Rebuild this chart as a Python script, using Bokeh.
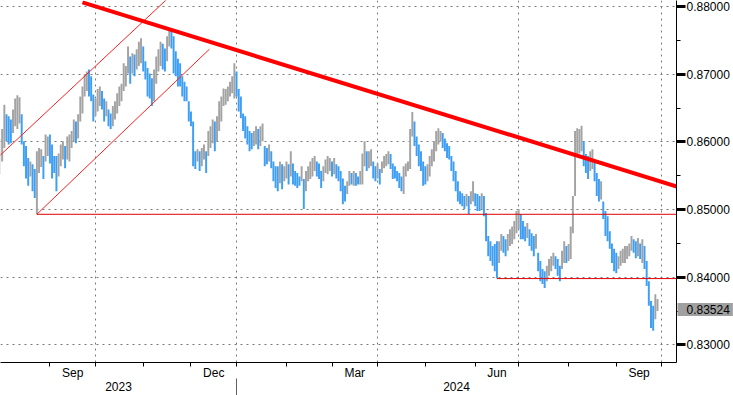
import numpy as np
from bokeh.plotting import figure
from bokeh.models import (Range1d, LinearAxis, FixedTicker, ColumnDataSource,
                          Label, PrintfTickFormatter)
from bokeh.embed import file_html
from bokeh.resources import INLINE

# ---------------- data (trading-day index, Aug 2023 .. Sep 2024) ----------------
month_start = [0, 23, 44, 66, 88, 109, 132, 153, 174, 196, 219, 239, 262, 284, 305]
labelled_months = [("Sep", 23, 44), ("Dec", 88, 109), ("Mar", 153, 174),
                   ("Jun", 219, 239), ("Sep", 284, 305)]
quarter_starts = [44, 109, 174, 239, 305]
year_start_2024 = 109
years = ["2023", "2024"]

high_pips = [
    8605, 8619, 8655, 8641, 8638, 8633, 8648, 8664, 8669, 8666,
    8641, 8601, 8594, 8576, 8571, 8567, 8560, 8586, 8591, 8589,
    8579, 8611, 8608, 8611, 8596, 8579, 8579, 8583, 8596, 8601,
    8594, 8608, 8611, 8616, 8633, 8630, 8641, 8667, 8682, 8700,
    8704, 8707, 8697, 8670, 8664, 8678, 8682, 8675, 8664, 8660,
    8648, 8642, 8653, 8660, 8672, 8682, 8686, 8716, 8712, 8741,
    8726, 8731, 8729, 8737, 8748, 8753, 8741, 8719, 8709, 8701,
    8694, 8707, 8726, 8737, 8748, 8745, 8738, 8756, 8766, 8765,
    8756, 8734, 8723, 8716, 8697, 8689, 8682, 8660, 8645, 8630,
    8586, 8589, 8586, 8591, 8596, 8586, 8616, 8623, 8633, 8630,
    8638, 8660, 8667, 8679, 8678, 8682, 8689, 8697, 8716, 8704,
    8678, 8667, 8642, 8638, 8623, 8616, 8613, 8616, 8623, 8619,
    8623, 8627, 8594, 8591, 8596, 8586, 8571, 8564, 8564, 8571,
    8567, 8564, 8571, 8567, 8586, 8568, 8557, 8554, 8549, 8564,
    8545, 8557, 8564, 8571, 8576, 8579, 8571, 8568, 8557, 8564,
    8574, 8579, 8576, 8571, 8576, 8567, 8564, 8557, 8546, 8535,
    8542, 8557, 8554, 8557, 8554, 8549, 8557, 8583, 8601, 8586,
    8586, 8589, 8571, 8564, 8568, 8560, 8571, 8579, 8582, 8586,
    8582, 8568, 8564, 8557, 8554, 8549, 8564, 8568, 8571, 8619,
    8644, 8630, 8608, 8596, 8586, 8571, 8564, 8567, 8579, 8589,
    8601, 8616, 8620, 8616, 8613, 8605, 8598, 8594, 8579, 8571,
    8557, 8542, 8527, 8524, 8520, 8523, 8520, 8527, 8542, 8524,
    8523, 8520, 8524, 8520, 8495, 8461, 8453, 8446, 8449, 8453,
    8453, 8464, 8461, 8456, 8464, 8471, 8475, 8483, 8498, 8501,
    8493, 8483, 8475, 8480, 8471, 8465, 8461, 8464, 8436, 8424,
    8412, 8409, 8417, 8427, 8431, 8436, 8431, 8427, 8417, 8439,
    8453, 8446, 8449, 8475, 8520, 8616, 8620, 8619, 8624, 8601,
    8582, 8579, 8586, 8589, 8571, 8554, 8545, 8542, 8512, 8498,
    8490, 8468, 8450, 8442, 8436, 8431, 8439, 8442, 8446, 8446,
    8450, 8461, 8456, 8453, 8458, 8450, 8456, 8446, 8424, 8394,
    8365, 8358, 8375, 8368,
]
low_pips = [
    8552, 8571, 8591, 8601, 8596, 8598, 8613, 8623, 8619, 8627,
    8596, 8564, 8546, 8535, 8549, 8527, 8517, 8493, 8554, 8563,
    8545, 8571, 8579, 8568, 8546, 8554, 8527, 8549, 8564, 8574,
    8561, 8574, 8571, 8591, 8601, 8598, 8605, 8630, 8642, 8667,
    8675, 8667, 8660, 8630, 8638, 8645, 8653, 8648, 8630, 8638,
    8623, 8619, 8623, 8633, 8642, 8653, 8660, 8675, 8682, 8701,
    8686, 8701, 8697, 8707, 8712, 8716, 8704, 8692, 8667, 8664,
    8653, 8660, 8686, 8704, 8712, 8707, 8704, 8719, 8741, 8738,
    8701, 8697, 8682, 8682, 8667, 8660, 8660, 8630, 8623, 8564,
    8560, 8571, 8557, 8564, 8574, 8554, 8579, 8591, 8598, 8586,
    8601, 8616, 8630, 8653, 8655, 8660, 8667, 8672, 8664, 8667,
    8645, 8635, 8616, 8605, 8596, 8586, 8589, 8594, 8596, 8589,
    8594, 8601, 8564, 8567, 8571, 8561, 8542, 8532, 8527, 8539,
    8530, 8542, 8546, 8537, 8549, 8537, 8535, 8532, 8535, 8542,
    8501, 8527, 8542, 8545, 8549, 8557, 8549, 8545, 8532, 8542,
    8554, 8552, 8557, 8549, 8552, 8546, 8542, 8527, 8508, 8512,
    8523, 8535, 8537, 8535, 8535, 8537, 8537, 8537, 8564, 8557,
    8561, 8564, 8546, 8542, 8546, 8537, 8554, 8561, 8564, 8567,
    8560, 8545, 8546, 8542, 8532, 8527, 8523, 8549, 8557, 8560,
    8608, 8594, 8579, 8564, 8557, 8535, 8537, 8542, 8549, 8564,
    8571, 8586, 8596, 8601, 8591, 8586, 8576, 8574, 8557, 8542,
    8527, 8512, 8508, 8505, 8501, 8505, 8493, 8508, 8512, 8505,
    8498, 8498, 8501, 8490, 8453, 8431, 8424, 8417, 8409, 8399,
    8421, 8439, 8436, 8431, 8439, 8446, 8449, 8456, 8465, 8471,
    8456, 8456, 8453, 8458, 8446, 8439, 8431, 8442, 8409, 8394,
    8390, 8384, 8394, 8402, 8409, 8417, 8412, 8402, 8394, 8412,
    8421, 8421, 8424, 8427, 8465, 8520, 8579, 8583, 8586, 8564,
    8554, 8545, 8557, 8560, 8542, 8520, 8512, 8515, 8486, 8461,
    8453, 8442, 8421, 8409, 8406, 8412, 8417, 8421, 8421, 8427,
    8431, 8439, 8436, 8428, 8431, 8427, 8421, 8412, 8387, 8358,
    8325, 8321, 8338, 8350,
]
last_price = 0.83524

price_ticks = [0.83, 0.84, 0.85, 0.86, 0.87, 0.88]
price_minor = [0.835, 0.845, 0.855, 0.865, 0.875]

# drawn studies (anchor points)
trend_x, trend_y = [38, 313], [0.8806, 0.8533]
chan_up_x, chan_up_y = [0, 80], [0.8580, 0.8820]
chan_lo_x, chan_lo_y = [17, 96.5], [0.8493, 0.8737]
support1_x0, support1 = 17, 0.8493
support2_x0, support2 = 229, 0.8398

# ---------------- styling / layout ----------------
FONT = "Liberation Sans"
FS = "12px"
BLUE = "#3d9ef5"
GREY = "#a3a3a3"
RED = "#ff0000"
X_START, X_END = 0.23, 311.75
Y_LO, Y_HI = 0.82740, 0.88089
W, H = 733, 395
FRAME_W, FRAME_H = 676, 362

p = figure(width=W, height=H, x_range=Range1d(X_START, X_END),
           y_range=Range1d(Y_LO, Y_HI), output_backend="svg",
           toolbar_location=None, y_axis_location="right",
           min_border_left=0, min_border_top=0,
           min_border_right=W - FRAME_W, min_border_bottom=H - FRAME_H)
p.outline_line_color = None

# grids
p.xgrid.ticker = FixedTicker(ticks=quarter_starts)
p.ygrid.ticker = FixedTicker(ticks=price_ticks)
for g in (p.xgrid, p.ygrid):
    g.grid_line_color = "#7a7a7a"
    g.grid_line_dash = "2 4"
    g.grid_line_width = 1

# right price axis
ya = p.yaxis[0]
ya.ticker = FixedTicker(ticks=price_ticks, minor_ticks=price_minor)
ya.formatter = PrintfTickFormatter(format="%.5f")
ya.axis_line_color = "black"
ya.major_tick_out = 9
ya.major_tick_in = 0
ya.major_tick_line_width = 3
ya.major_tick_line_color = "black"
ya.minor_tick_out = 4
ya.minor_tick_in = 0
ya.minor_tick_line_color = "black"
ya.major_label_standoff = 1
ya.major_label_text_font = FONT
ya.major_label_text_font_size = FS
ya.major_label_text_color = "black"

# bottom month axis
mids = [(a + b) / 2 for _, a, b in labelled_months]
xa = p.xaxis[0]
xa.ticker = FixedTicker(ticks=mids, minor_ticks=month_start)
xa.major_label_overrides = {m: name for m, (name, _, _) in zip(mids, labelled_months)}
xa.axis_line_color = "black"
xa.major_tick_out = 0
xa.major_tick_in = 0
xa.minor_tick_out = 4
xa.minor_tick_in = 0
xa.minor_tick_line_color = "black"
xa.major_label_standoff = -1
xa.major_label_text_font = FONT
xa.major_label_text_font_size = FS
xa.major_label_text_color = "black"

# bars
hi = np.array(high_pips) / 10000.0
lo = np.array(low_pips) / 10000.0
mid = (hi + lo) / 2
colors = [GREY] + [GREY if mid[k] >= mid[k - 1] else BLUE for k in range(1, len(mid))]
src = ColumnDataSource(dict(x=np.arange(len(hi)), top=hi, bottom=lo, color=colors))
p.vbar(x="x", top="top", bottom="bottom", width=0.9, source=src,
       fill_color="color", line_color=None)

# studies
p.line(chan_up_x, chan_up_y, line_color="#ff2020", line_width=1)
p.line(chan_lo_x, chan_lo_y, line_color="#ff2020", line_width=1)
p.line([support1_x0, X_END + 5], [support1, support1], line_color="#e00000", line_width=1)
p.line([support2_x0, X_END + 5], [support2, support2], line_color="#e00000", line_width=1)
p.line(trend_x, trend_y, line_color=RED, line_width=4)

# last-price tag (a label placed in a side panel so it is not clipped by the frame)
ux = (X_END - X_START) / FRAME_W          # data units per px in x
tag = Label(x=X_END + 10 * ux, y=last_price, text=f"{last_price:.5f}",
            text_baseline="middle", text_align="left",
            text_font=FONT, text_font_size=FS, text_color="black",
            background_fill_color="#a0a0a0", background_fill_alpha=1.0)
try:
    tag.padding = dict(left=9, right=3, top=2, bottom=2)
    tag.x = X_END + 1 * ux
except Exception:
    try:
        tag.padding = 2
    except Exception:
        pass
p.add_layout(tag, "below")

# year axis (separator drawn as an inward minor tick)
yr_mid = [(X_START + year_start_2024) / 2, (year_start_2024 + X_END) / 2]
yax = LinearAxis(ticker=FixedTicker(ticks=yr_mid, minor_ticks=[year_start_2024]),
                 major_label_overrides={yr_mid[0]: years[0], yr_mid[1]: years[1]},
                 axis_line_color=None, major_tick_out=0, major_tick_in=0,
                 minor_tick_out=0, minor_tick_in=17, minor_tick_line_color="#606060",
                 major_label_standoff=-14, major_label_text_font=FONT,
                 major_label_text_font_size=FS, major_label_text_color="black")
p.add_layout(yax, "below")

open("out.html", "w").write(file_html(p, INLINE))
